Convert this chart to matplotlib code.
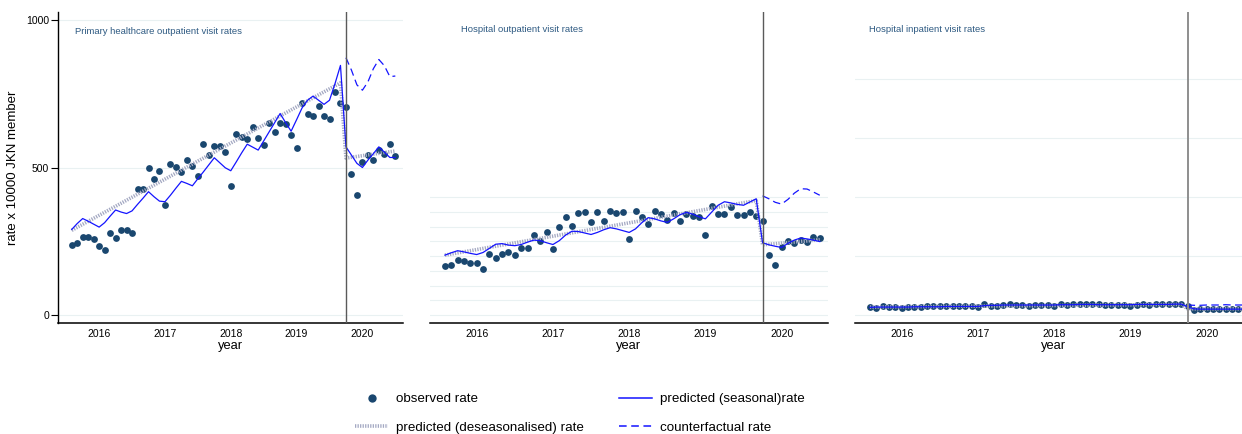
import numpy as np
import matplotlib
matplotlib.use("Agg")
import matplotlib.pyplot as plt
from matplotlib.lines import Line2D

plt.rcParams['font.family'] = ['Liberation Sans', 'DejaVu Sans']

# monthly index, 0 = Jan 2016 (series runs 2015m8 .. 2020m7)
months = np.arange(-5, 55)
post = months[50:]
break_month = 45
year_ticks = [0, 12, 24, 36, 48]
year_labels = ['2016', '2017', '2018', '2019', '2020']
des_x = [-5, 44, 45, 54]

# primary healthcare outpatient
ph_obs = [239, 244, 265, 265, 257, 234, 220, 277, 261, 289, 288, 278,
          426, 426, 500, 460, 488, 374, 511, 501, 486, 524, 505, 472,
          579, 541, 573, 573, 552, 437, 612, 603, 595, 638, 599, 577,
          652, 622, 651, 649, 609, 567, 720, 683, 673, 707, 676, 664,
          755, 720, 705, 479, 406, 517, 543, 524, 558, 545, 578, 538]
ph_seas = [290, 310, 327, 318, 308, 298, 313, 335, 356, 349, 344, 353,
           375, 396, 418, 401, 386, 384, 406, 430, 453, 446, 438, 462,
           485, 509, 533, 516, 499, 489, 519, 550, 579, 569, 559, 590,
           621, 652, 683, 652, 623, 662, 702, 728, 742, 728, 714, 728,
           784, 846, 570, 542, 514, 500, 525, 547, 570, 552, 534, 534]
ph_cf = [872, 830, 780, 762, 790, 835, 866, 845, 808, 810]
ph_des = [287, 787, 532, 556]

# hospital outpatient
ho_obs = [166, 169, 186, 184, 177, 177, 157, 207, 193, 207, 213, 205,
          226, 228, 270, 252, 280, 223, 298, 331, 302, 346, 348, 315,
          348, 318, 353, 346, 349, 258, 354, 331, 309, 352, 341, 322,
          345, 317, 341, 334, 331, 270, 371, 343, 341, 367, 340, 339,
          350, 336, 317, 202, 170, 231, 252, 244, 254, 249, 263, 260]
ho_seas = [203, 211, 218, 214, 209, 205, 212, 226, 240, 242, 237, 235,
           239, 247, 254, 252, 245, 239, 252, 271, 284, 283, 278, 273,
           280, 289, 296, 292, 286, 280, 292, 313, 330, 326, 319, 314,
           326, 340, 348, 342, 333, 326, 349, 372, 384, 380, 375, 372,
           383, 394, 245, 238, 233, 229, 243, 254, 261, 258, 254, 249]
ho_cf = [404, 394, 382, 376, 392, 413, 428, 427, 417, 406]
ho_des = [203, 388, 238, 255]

# hospital inpatient
hi_obs = [26, 24, 30, 28, 27, 24, 26, 28, 28, 29, 29, 30,
          30, 29, 29, 29, 30, 26, 37, 32, 32, 35, 37, 35,
          35, 32, 34, 34, 33, 29, 37, 35, 36, 38, 37, 36,
          36, 33, 35, 35, 33, 32, 35, 36, 35, 37, 36, 36,
          38, 36, 32, 17, 19, 20, 20, 19, 19, 20, 19, 19]
hi_seas = [26, 27, 27, 27, 27, 27, 27, 28, 28, 28, 28, 28,
           29, 29, 29, 29, 29, 29, 32, 33, 33, 34, 34, 34,
           34, 34, 34, 34, 34, 34, 35, 35, 35, 36, 36, 36,
           35, 35, 35, 35, 35, 35, 36, 36, 36, 36, 36, 36,
           37, 37, 28, 21, 20, 20, 20, 20, 20, 20, 20, 20]
hi_cf = [34, 33, 33, 34, 34, 34, 35, 34, 34, 34]
hi_des = [27, 36, 21, 21]

titles = ['Primary healthcare outpatient visit rates',
          'Hospital outpatient visit rates',
          'Hospital inpatient visit rates']

navy = '#1a476f'
blue = '#1414ff'
grey = '#a3a8c2'
des_style = (0, (0.35, 0.35))

W, H = 1242, 434
fig = plt.figure(figsize=(W / 100, H / 100), dpi=100)
bottom = 1 - 323 / H
height = (323 - 12) / H

panels = [
    ([58 / W, bottom, 345 / W, height], (-7.5, 55.4), [0, 500, 1000], ph_obs, ph_seas, ph_cf, ph_des),
    ([430 / W, bottom, 398 / W, height], (-7.35, 55.3), list(range(0, 401, 50)), ho_obs, ho_seas, ho_cf, ho_des),
    ([855 / W, bottom, 398 / W, height], (-7.35, 55.3), list(range(0, 801, 200)), hi_obs, hi_seas, hi_cf, hi_des),
]
title_pos = [(75, 32), (461, 29.5), (869, 29.5)]

for i, (rect, xlim, grid, obs, seas, cf, des) in enumerate(panels):
    ax = fig.add_axes(rect)
    ax.plot(months, obs, 'o', color=navy, ms=4.9, mew=0, zorder=3)
    ax.plot(des_x, des, color=grey, lw=2.6, ls=des_style, zorder=4)
    ax.plot(months, seas, color=blue, lw=0.9, zorder=5)
    ax.plot(post, cf, color=blue, lw=0.9, ls=(0, (6, 3.5)), zorder=5)
    ax.axvline(break_month, color='#5a5a5a' if i < 2 else '#8e8e8e', lw=1.0 if i < 2 else 1.4, zorder=6)

    ax.set_xlim(*xlim)
    ax.set_ylim(-27, 1027)
    ax.set_xticks(year_ticks)
    ax.set_xticklabels(year_labels)
    ax.set_yticks(grid)
    ax.grid(axis='y', color='#e9f1f2', lw=0.8)
    ax.set_axisbelow(True)
    ax.tick_params(axis='x', length=0, pad=4, labelsize=7.5)
    ax.set_xlabel('year', fontsize=9.3, labelpad=1)
    for s in ['top', 'right']:
        ax.spines[s].set_visible(False)
    ax.spines['bottom'].set_linewidth(1.1)
    if i == 0:
        ax.tick_params(axis='y', length=5, width=0.8, pad=1.5, labelsize=7.5)
        ax.spines['left'].set_linewidth(1.0)
        ax.set_ylabel('rate x 10000 JKN member', fontsize=9.5, labelpad=5)
    else:
        ax.spines['left'].set_visible(False)
        ax.tick_params(axis='y', left=False, labelleft=False)

    tx, ty = title_pos[i]
    fig.text(tx / W, 1 - ty / H, titles[i], fontsize=6.8, color='#2e5a82', va='center')

handles = [
    Line2D([], [], marker='o', ls='none', color=navy, ms=6, mew=0),
    Line2D([], [], color=grey, lw=2.6, ls=des_style),
    Line2D([], [], color=blue, lw=1.1),
    Line2D([], [], color=blue, lw=1.1, ls=(0, (5, 3))),
]
labels = ['observed rate', 'predicted (deseasonalised) rate',
          'predicted (seasonal)rate', 'counterfactual rate']
fig.legend(handles, labels, loc='upper left', bbox_to_anchor=(355 / W, 1 - 393 / H),
           ncol=2, frameon=False, fontsize=9.6, handlelength=2.5, handletextpad=0.6,
           columnspacing=2.6, labelspacing=1.2, borderpad=0, borderaxespad=0)

fig.savefig('out.png', dpi=100)
